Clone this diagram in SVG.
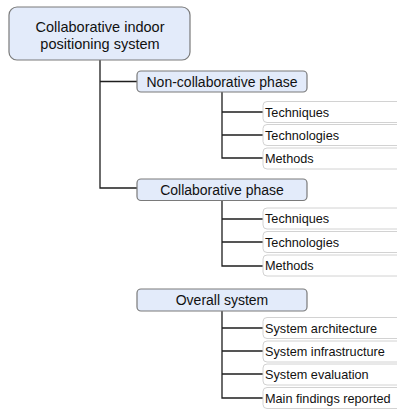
<svg xmlns="http://www.w3.org/2000/svg" width="397" height="409" viewBox="0 0 397 409">
  <style>
    .root { fill: #e3ebfa; stroke: #7a7a7a; stroke-width: 1.2; }
    .phase { fill: #e3ebfa; stroke: #7a7a7a; stroke-width: 1.2; }
    .leaf { fill: #ffffff; stroke: #d2d2d2; stroke-width: 1; }
    .t-root { font-family: "Liberation Sans", Arial, sans-serif; font-size: 14.5px; fill: #111; text-anchor: middle; }
    .t-phase { font-family: "Liberation Sans", Arial, sans-serif; font-size: 14px; fill: #111; text-anchor: middle; }
    .t-leaf { font-family: "Liberation Sans", Arial, sans-serif; font-size: 12.7px; fill: #111; }
    .conn { fill: none; stroke: #1e1e1e; stroke-width: 1.3; }
  </style>

  <!-- tree connectors -->
  <g id="connectors">
    <path class="conn" d="M100 60 V188 H137"/>
    <path class="conn" d="M100 81.5 H137"/>
    <path class="conn" d="M222 92 V158 H263 M222 112 H263 M222 135 H263"/>
    <path class="conn" d="M222 201 V266 H263 M222 219 H263 M222 242 H263"/>
    <path class="conn" d="M222 311 V398 H263 M222 328 H263 M222 351 H263 M222 374 H263"/>
  </g>

  <g id="root">
    <rect class="root" x="9" y="7" width="181" height="53" rx="8"/>
    <text class="t-root" x="100" y="32">Collaborative indoor</text>
    <text class="t-root" x="100" y="49">positioning system</text>
  </g>

  <g id="non-collaborative">
    <rect class="phase" x="137" y="71" width="170" height="21" rx="4"/>
    <text class="t-phase" x="222" y="86.5">Non-collaborative phase</text>
  </g>
  <g id="nc-techniques">
    <rect class="leaf" x="263" y="101.5" width="140" height="21" rx="4"/>
    <text class="t-leaf" x="265" y="116.5">Techniques</text>
  </g>
  <g id="nc-technologies">
    <rect class="leaf" x="263" y="124.5" width="140" height="21" rx="4"/>
    <text class="t-leaf" x="265" y="139.5">Technologies</text>
  </g>
  <g id="nc-methods">
    <rect class="leaf" x="263" y="148" width="140" height="21" rx="4"/>
    <text class="t-leaf" x="265" y="163">Methods</text>
  </g>

  <g id="collaborative">
    <rect class="phase" x="137" y="179" width="170" height="21.5" rx="4"/>
    <text class="t-phase" x="222" y="194.5">Collaborative phase</text>
  </g>
  <g id="c-techniques">
    <rect class="leaf" x="263" y="208" width="140" height="21" rx="4"/>
    <text class="t-leaf" x="265" y="223">Techniques</text>
  </g>
  <g id="c-technologies">
    <rect class="leaf" x="263" y="231.5" width="140" height="21" rx="4"/>
    <text class="t-leaf" x="265" y="246.5">Technologies</text>
  </g>
  <g id="c-methods">
    <rect class="leaf" x="263" y="255" width="140" height="21" rx="4"/>
    <text class="t-leaf" x="265" y="270">Methods</text>
  </g>

  <g id="overall">
    <rect class="phase" x="137" y="289" width="170" height="22" rx="4"/>
    <text class="t-phase" x="222" y="305">Overall system</text>
  </g>
  <g id="o-architecture">
    <rect class="leaf" x="263" y="317.5" width="140" height="21" rx="4"/>
    <text class="t-leaf" x="265" y="332.5">System architecture</text>
  </g>
  <g id="o-infrastructure">
    <rect class="leaf" x="263" y="341" width="140" height="21" rx="4"/>
    <text class="t-leaf" x="265" y="356">System infrastructure</text>
  </g>
  <g id="o-evaluation">
    <rect class="leaf" x="263" y="364" width="140" height="21" rx="4"/>
    <text class="t-leaf" x="265" y="379">System evaluation</text>
  </g>
  <g id="o-findings">
    <rect class="leaf" x="263" y="387.5" width="140" height="21" rx="4"/>
    <text class="t-leaf" x="265" y="402.5">Main findings reported</text>
  </g>
</svg>
